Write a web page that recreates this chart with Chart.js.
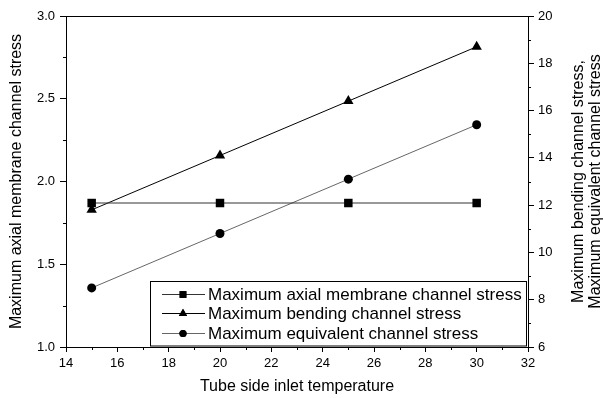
<!DOCTYPE html>
<html>
<head>
<meta charset="utf-8">
<script src="https://cdn.jsdelivr.net/npm/chart.js@4.4.1/dist/chart.umd.min.js"></script>
<style>
  html, body { margin: 0; padding: 0; background: #fff; }
  #wrap { width: 603px; height: 398px; }
</style>
</head>
<body>
<div id="wrap"><canvas id="chart" width="603" height="398"></canvas></div>
<script>
"use strict";

// Tube side inlet temperature
const temps = [15, 20, 25, 30];
// left axis
const axialStress = [1.87, 1.87, 1.87, 1.87];
// right axis
const bendingStress = [11.8, 14.1, 16.4, 18.7];
const equivStress = [8.5, 10.8, 13.1, 15.4];

const xMajor = [14, 16, 18, 20, 22, 24, 26, 28, 30, 32];
const xMinor = [15, 17, 19, 21, 23, 25, 27, 29, 31];
const leftMajor = [1.0, 1.5, 2.0, 2.5, 3.0];
const leftMinor = [1.25, 1.75, 2.25, 2.75];
const rightMajor = [6, 8, 10, 12, 14, 16, 18, 20];
const rightMinor = [7, 9, 11, 13, 15, 17, 19];

const FONT = "Liberation Sans, Arial, Helvetica, sans-serif";
const pts = (ys) => temps.map((x, i) => ({ x, y: ys[i] }));

// frame top line, minor ticks, right title, inner legend
const extras = {
  id: "extras",
  afterDraw(chart) {
    const { ctx, chartArea: a, scales } = chart;
    ctx.save();
    ctx.strokeStyle = "#000";
    ctx.lineWidth = 1;

    // top border
    ctx.beginPath();
    ctx.moveTo(a.left, Math.round(a.top) + 0.5);
    ctx.lineTo(a.right, Math.round(a.top) + 0.5);
    ctx.stroke();

    // minor ticks, outward
    ctx.beginPath();
    xMinor.forEach((v) => {
      const x = Math.round(scales.x.getPixelForValue(v)) + 0.5;
      ctx.moveTo(x, a.bottom);
      ctx.lineTo(x, a.bottom + 3);
    });
    leftMinor.forEach((v) => {
      const y = Math.round(scales.y.getPixelForValue(v)) + 0.5;
      ctx.moveTo(a.left, y);
      ctx.lineTo(a.left - 3, y);
    });
    rightMinor.forEach((v) => {
      const y = Math.round(scales.y2.getPixelForValue(v)) + 0.5;
      ctx.moveTo(a.right, y);
      ctx.lineTo(a.right + 3, y);
    });
    ctx.stroke();

    // right axis title, read bottom to top
    ctx.fillStyle = "#000";
    ctx.font = "16px " + FONT;
    ctx.textAlign = "center";
    ctx.textBaseline = "middle";
    const cy = (a.top + a.bottom) / 2;
    [["Maximum bending channel stress,", 579], ["Maximum equivalent channel stress", 596]].forEach(([t, x]) => {
      ctx.save();
      ctx.translate(x, cy);
      ctx.rotate(-Math.PI / 2);
      ctx.fillText(t, 0, 0);
      ctx.restore();
    });

    // legend box, bottom right inside the plot
    const L = 150.5, R = 526.5, T = 281.5, B = 346;
    ctx.fillStyle = "#fff";
    ctx.fillRect(L, T, R - L, B - T);
    ctx.strokeRect(L, T, R - L, B - T);
    const rows = [294, 313, 333];
    chart.data.datasets.forEach((ds, i) => {
      const y = rows[i];
      ctx.strokeStyle = ds.borderColor;
      ctx.beginPath();
      ctx.moveTo(162, y + 0.5);
      ctx.lineTo(205, y + 0.5);
      ctx.stroke();
      ctx.fillStyle = "#000";
      Chart.helpers.drawPoint(ctx, {
        pointStyle: ds.pointStyle,
        radius: ds.pointRadius * 0.8,
        rotation: 0,
        borderWidth: 0,
      }, 183, y + 0.5);
      ctx.fill();
      ctx.fillStyle = "#000";
      ctx.font = "17px " + FONT;
      ctx.textAlign = "left";
      ctx.textBaseline = "middle";
      ctx.fillText(ds.label, 208, y + 1);
    });
    ctx.restore();
  },
};

const tickFont = { family: FONT, size: 13 };

new Chart(document.getElementById("chart"), {
  type: "scatter",
  data: {
    datasets: [
      {
        label: "Maximum axial membrane channel stress",
        data: pts(axialStress),
        yAxisID: "y",
        showLine: true,
        borderColor: "#333",
        borderWidth: 1,
        backgroundColor: "#000",
        pointBackgroundColor: "#000",
        pointBorderWidth: 0,
        pointStyle: "rect",
        pointRadius: 6,
      },
      {
        label: "Maximum bending channel stress",
        data: pts(bendingStress),
        yAxisID: "y2",
        showLine: true,
        borderColor: "#000",
        borderWidth: 1,
        backgroundColor: "#000",
        pointBackgroundColor: "#000",
        pointBorderWidth: 0,
        pointStyle: "triangle",
        pointRadius: 6,
      },
      {
        label: "Maximum equivalent channel stress",
        data: pts(equivStress),
        yAxisID: "y2",
        showLine: true,
        borderColor: "#666",
        borderWidth: 1,
        backgroundColor: "#000",
        pointBackgroundColor: "#000",
        pointBorderWidth: 0,
        pointStyle: "circle",
        pointRadius: 4.5,
      },
    ],
  },
  options: {
    responsive: false,
    animation: false,
    devicePixelRatio: 1,
    layout: { padding: { top: 16, left: 0, right: 0, bottom: 0 } },
    plugins: {
      legend: { display: false },
      tooltip: { enabled: false },
    },
    scales: {
      x: {
        type: "linear",
        min: 14,
        max: 32,
        afterBuildTicks: (s) => { s.ticks = xMajor.map((v) => ({ value: v })); },
        afterFit: (s) => { s.height = 51; },
        border: { display: true, color: "#000", width: 1 },
        grid: { drawOnChartArea: false, tickLength: 5, color: "#000" },
        ticks: { color: "#000", font: tickFont, padding: 4, maxRotation: 0, autoSkip: false },
        title: {
          display: true,
          text: "Tube side inlet temperature",
          color: "#000",
          font: { family: FONT, size: 16 },
          padding: { top: 0, bottom: 2 },
        },
      },
      y: {
        position: "left",
        min: 1,
        max: 3,
        afterBuildTicks: (s) => { s.ticks = leftMajor.map((v) => ({ value: v })); },
        afterFit: (s) => { s.width = 66; },
        border: { display: true, color: "#000", width: 1 },
        grid: { drawOnChartArea: false, tickLength: 6, color: "#000" },
        ticks: { color: "#000", font: tickFont, padding: 5, callback: (v) => Number(v).toFixed(1) },
        title: {
          display: true,
          text: "Maximum axial membrane channel stress",
          color: "#000",
          font: { family: FONT, size: 16 },
          padding: { top: 7, bottom: 0 },
        },
      },
      y2: {
        position: "right",
        min: 6,
        max: 20,
        afterBuildTicks: (s) => { s.ticks = rightMajor.map((v) => ({ value: v })); },
        afterFit: (s) => { s.width = 75; },
        border: { display: true, color: "#000", width: 1 },
        grid: { drawOnChartArea: false, tickLength: 6, color: "#000" },
        ticks: { color: "#000", font: tickFont, padding: 4 },
      },
    },
  },
  plugins: [extras],
});
</script>
</body>
</html>
